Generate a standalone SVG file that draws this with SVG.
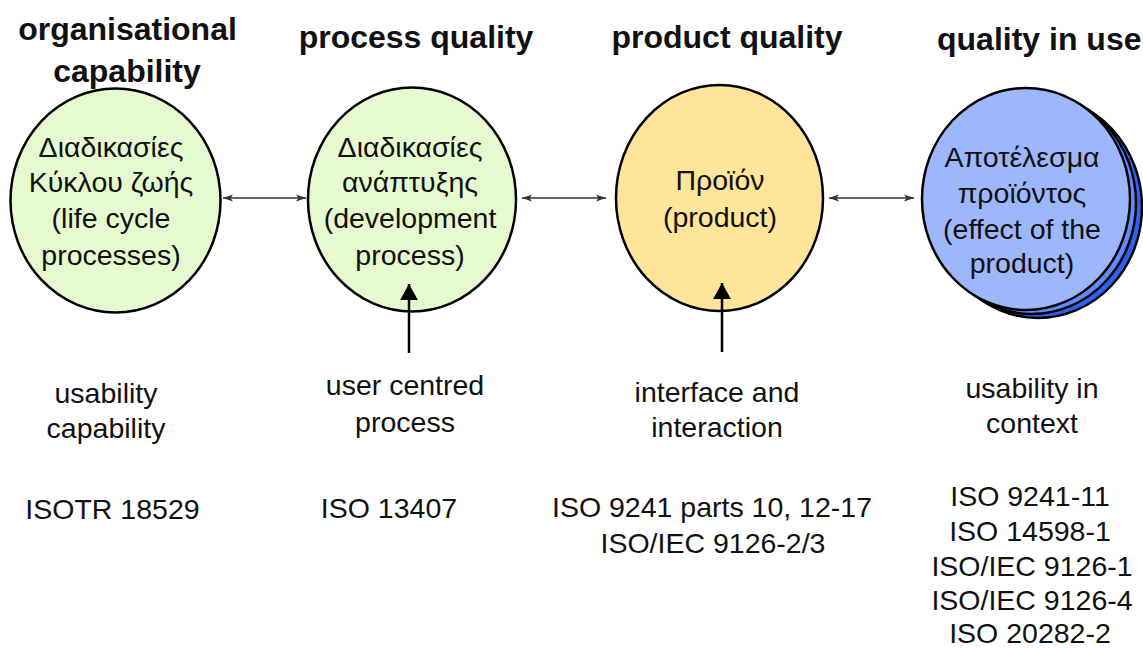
<svg xmlns="http://www.w3.org/2000/svg" width="1143" height="648" viewBox="0 0 1143 648">
<style>
.h{font-family:"Liberation Sans",Arial,sans-serif;font-size:32px;font-weight:bold;fill:#111;}
.t{font-family:"Liberation Sans",Arial,sans-serif;font-size:28.5px;fill:#111;text-anchor:middle;}
.c{stroke:#000;stroke-width:2.5;}
.dbl{stroke:#333;stroke-width:1.6;fill:none;marker-start:url(#sa);marker-end:url(#ea);}
.up{stroke:#000;stroke-width:2.5;fill:none;marker-end:url(#ua);}
</style>
<defs>
<marker id="ea" viewBox="0 0 10 8" refX="10" refY="4" markerWidth="10" markerHeight="8" markerUnits="userSpaceOnUse" orient="auto"><path d="M0,0.5 L10,4 L0,7.5 L2.5,4 Z" fill="#333"/></marker>
<marker id="sa" viewBox="0 0 10 8" refX="0" refY="4" markerWidth="10" markerHeight="8" markerUnits="userSpaceOnUse" orient="auto"><path d="M10,0.5 L0,4 L10,7.5 L7.5,4 Z" fill="#333"/></marker>
<marker id="ua" viewBox="0 0 20 18" refX="18" refY="10" markerWidth="18" markerHeight="20" markerUnits="userSpaceOnUse" orient="auto"><path d="M0,0 L18,10 L0,20 Z" fill="#000"/></marker>
</defs>
<rect width="1143" height="648" fill="#fff"/>

<g id="headings">
<text class="h" x="127.5" y="40" text-anchor="middle">organisational</text>
<text class="h" x="127" y="82" text-anchor="middle">capability</text>
<text class="h" x="416" y="48" text-anchor="middle">process quality</text>
<text class="h" x="727" y="48" text-anchor="middle">product quality</text>
<text class="h" x="937" y="50">quality in use</text>
</g>

<g id="node-lifecycle">
<ellipse class="c" cx="115.5" cy="200.5" rx="105" ry="112" fill="#E5FBCF"/>
<text class="t" x="111" y="157">Διαδικασίες</text>
<text class="t" x="111" y="192">Κύκλου ζωής</text>
<text class="t" x="111" y="228">(life cycle</text>
<text class="t" x="111" y="265">processes)</text>
</g>

<g id="node-development">
<ellipse class="c" cx="412" cy="199.5" rx="104" ry="112" fill="#E5FBCF"/>
<text class="t" x="410" y="157">Διαδικασίες</text>
<text class="t" x="410" y="192">ανάπτυξης</text>
<text class="t" x="410" y="228">(development</text>
<text class="t" x="410" y="265">process)</text>
</g>

<g id="node-product">
<ellipse class="c" cx="719.5" cy="198" rx="103.5" ry="113" fill="#FFE599"/>
<text class="t" x="720" y="190">Προϊόν</text>
<text class="t" x="720" y="227">(product)</text>
</g>

<g id="node-effect">
<ellipse class="c" cx="1038" cy="207" rx="104" ry="111" fill="#2D62F6"/>
<ellipse class="c" cx="1032" cy="203" rx="104" ry="111" fill="#5C8CFF"/>
<ellipse class="c" cx="1026" cy="199" rx="104" ry="111" fill="#9DB7FD"/>
<text class="t" x="1022" y="167">Αποτέλεσμα</text>
<text class="t" x="1022" y="203">προϊόντος</text>
<text class="t" x="1022" y="239">(effect of the</text>
<text class="t" x="1022" y="273">product)</text>
</g>

<g id="connectors">
<line class="dbl" x1="223" y1="198" x2="306" y2="198"/>
<line class="dbl" x1="522" y1="198" x2="606" y2="198"/>
<line class="dbl" x1="829" y1="198" x2="914" y2="198"/>
<line class="up" x1="409" y1="353" x2="409" y2="284"/>
<line class="up" x1="722" y1="352" x2="722" y2="283"/>
</g>

<g id="labels">
<text class="t" x="106" y="403">usability</text>
<text class="t" x="106" y="438">capability</text>
<text class="t" x="405" y="395">user centred</text>
<text class="t" x="405" y="432">process</text>
<text class="t" x="717" y="402">interface and</text>
<text class="t" x="717" y="437">interaction</text>
<text class="t" x="1032" y="398">usability in</text>
<text class="t" x="1032" y="433">context</text>
</g>

<g id="standards">
<text class="t" x="112.5" y="519">ISOTR 18529</text>
<text class="t" x="389" y="518">ISO 13407</text>
<text class="t" x="712" y="517">ISO 9241 parts 10, 12-17</text>
<text class="t" x="713" y="553">ISO/IEC 9126-2/3</text>
<text class="t" x="1030" y="506">ISO 9241-11</text>
<text class="t" x="1030" y="541">ISO 14598-1</text>
<text class="t" x="1032" y="576">ISO/IEC 9126-1</text>
<text class="t" x="1032" y="610">ISO/IEC 9126-4</text>
<text class="t" x="1030" y="643">ISO 20282-2</text>
</g>
</svg>
